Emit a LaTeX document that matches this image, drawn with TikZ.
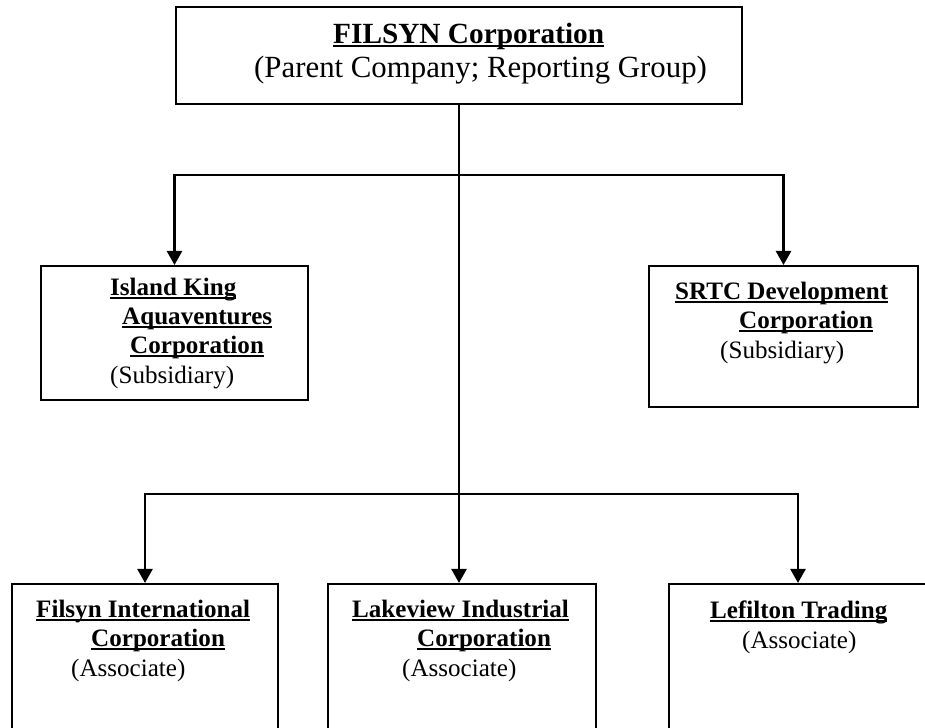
\documentclass[tikz,border=0pt]{standalone}
\usepackage{fontspec}
\setmainfont{Liberation Serif}
\usetikzlibrary{arrows.meta}
\newlength{\pxu}
\setlength{\pxu}{0.03cm}
\newsavebox{\cnamebox}
\newcommand{\cname}[1]{\sbox{\cnamebox}{\textbf{#1}}\rlap{\rule[-2.6pt]{\wd\cnamebox}{1.5pt}}\usebox{\cnamebox}}
\tikzset{
  box/.style={draw, line width=1.8pt, rectangle, inner sep=0pt},
  link/.style={line width=1.8pt},
  arr/.style={link, -{Triangle[width=13pt, length=12pt]}},
  boxtext/.style={anchor=base west, align=left, inner sep=0pt, font=\fontsize{21.4pt}{24.8pt}\selectfont},
}

\begin{document}
\begin{tikzpicture}[x=0.03cm, y=-0.03cm]

\useasboundingbox (0, 0) rectangle (925, 727);

% boxes
\node [box, minimum width=566\pxu, minimum height=97\pxu] (filsyn) at (459, 55.5) {};
\node [box, minimum width=267\pxu, minimum height=134\pxu] (island) at (174.5, 333) {};
\node [box, minimum width=269\pxu, minimum height=141\pxu] (srtc) at (783.5, 336.5) {};
\node [box, minimum width=266\pxu, minimum height=170\pxu] (intl) at (145, 669) {};
\node [box, minimum width=268\pxu, minimum height=170\pxu] (lakeview) at (462, 669) {};
\node [box, minimum width=258\pxu, minimum height=170\pxu] (lefilton) at (798, 669) {};

% texts (anchored at the baseline of the last line)
\node [boxtext, font=\fontsize{26.3pt}{28.2pt}\selectfont] (filsyntxt) at (254, 77)
      {\hspace*{79\pxu}{\fontsize{25pt}{28.2pt}\selectfont\cname{FILSYN Corporation}}\\(Parent Company; Reporting Group)};
\node [boxtext] (islandtxt) at (110, 383)
      {\cname{Island King}\\\hspace*{12\pxu}\cname{Aquaventures}\\\hspace*{20\pxu}\cname{Corporation}\\(Subsidiary)};
\node [boxtext] (srtctxt) at (675, 358)
      {\cname{SRTC Development}\\\hspace*{64\pxu}\cname{Corporation}\\\hspace*{45\pxu}(Subsidiary)};
\node [boxtext] (intltxt) at (36, 676)
      {\cname{Filsyn International}\\\hspace*{55\pxu}\cname{Corporation}\\\hspace*{35\pxu}(Associate)};
\node [boxtext] (lakeviewtxt) at (352, 676)
      {\cname{Lakeview Industrial}\\\hspace*{65\pxu}\cname{Corporation}\\\hspace*{50\pxu}(Associate)};
\node [boxtext] (lefiltontxt) at (710, 648)
      {\cname{Lefilton Trading}\\\hspace*{32\pxu}(Associate)};

% connectors
\coordinate (j1) at (filsyn.south |- 0, 175);
\coordinate (j2) at (filsyn.south |- 0, 494);
\draw [arr] (filsyn.south) -- (filsyn.south |- lakeview.north);
\draw [arr] (j1) -| (island.north);
\draw [arr] (j1) -| (srtc.north);
\draw [arr] (j2) -| (intl.north);
\draw [arr] (j2) -| (lefilton.north);
\end{tikzpicture}
\end{document}
